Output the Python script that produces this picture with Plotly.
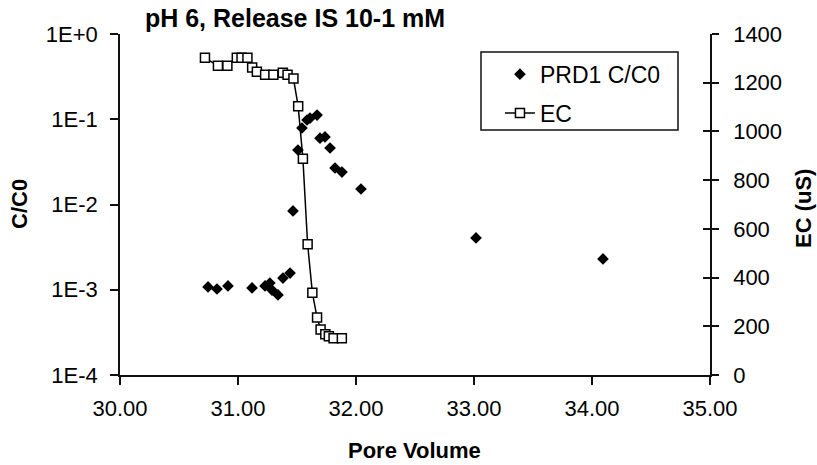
import plotly.graph_objects as go

# PRD1 C/C0 (left log axis)
prd1_pv = [30.746, 30.822, 30.915, 31.119, 31.229, 31.270, 31.288, 31.339, 31.381, 31.441,
           31.466, 31.508, 31.542, 31.585, 31.610, 31.670, 31.695, 31.737, 31.780, 31.822,
           31.881, 32.042, 33.017, 34.093]
prd1_cc0 = [1.08e-3, 1.02e-3, 1.11e-3, 1.05e-3, 1.11e-3, 1.20e-3, 0.99e-3, 0.87e-3, 1.37e-3, 1.57e-3,
            8.4e-3, 0.0436, 0.079, 0.098, 0.103, 0.112, 0.060, 0.062, 0.046, 0.0268,
            0.024, 0.0152, 4.05e-3, 2.3e-3]

# EC (right axis)
ec_pv = [30.72, 30.83, 30.91, 30.99, 31.03, 31.08, 31.12, 31.16, 31.23, 31.30, 31.38, 31.42,
         31.47, 31.51, 31.55, 31.59, 31.63, 31.67, 31.70, 31.74, 31.77, 31.81, 31.88]
ec_us = [1302, 1270, 1270, 1302, 1302, 1302, 1262, 1245, 1233, 1233, 1241, 1233,
         1217, 1103, 888, 537, 338, 236, 187, 167, 159, 151, 151]

x_ticks = [30, 31, 32, 33, 34, 35]
y_ticks = [1, 0.1, 0.01, 0.001, 0.0001]
y_ticktext = ["1E+0", "1E-1", "1E-2", "1E-3", "1E-4"]
y2_ticks = [0, 200, 400, 600, 800, 1000, 1200, 1400]

FONT = "Liberation Sans, Arial, sans-serif"
INK = "#111111"

fig = go.Figure()
fig.add_trace(go.Scatter(
    x=prd1_pv, y=prd1_cc0, mode="markers", name="PRD1 C/C0",
    marker=dict(symbol="diamond", size=9, color="black"),
    yaxis="y", legendgroup="a"))
fig.add_trace(go.Scatter(
    x=ec_pv, y=ec_us, mode="lines+markers", name="EC",
    line=dict(color="black", width=1.5),
    marker=dict(symbol="square", size=9, color="white", line=dict(color="black", width=1.5)),
    yaxis="y2", legendgroup="b"))
# helper trace so the crossing-tick axis is drawn
fig.add_trace(go.Scatter(x=[None], y=[None], yaxis="y3", showlegend=False, hoverinfo="skip"))

axis_common = dict(showgrid=False, zeroline=False, showline=True, linecolor=INK, linewidth=1.5,
                   tickcolor=INK, tickwidth=1.5, tickfont=dict(family=FONT, size=22, color="black"))

fig.update_layout(
    width=817, height=465,
    margin=dict(l=120, r=107, t=34, b=90),
    paper_bgcolor="white", plot_bgcolor="white",
    font=dict(family=FONT, color="black"),
    showlegend=True,
    legend=dict(x=0.644, y=0.945, xanchor="left", yanchor="top",
                bgcolor="rgba(0,0,0,0)", borderwidth=0,
                font=dict(family=FONT, size=23, color="black"),
                traceorder="grouped", tracegroupgap=6),
    xaxis=dict(range=[30, 35], tickvals=x_ticks, tickformat=".2f", ticks="outside", ticklen=8,
               ticklabelstandoff=5, **axis_common),
    yaxis=dict(type="log", range=[-4, 0], tickvals=y_ticks, ticktext=y_ticktext,
               ticks="outside", ticklen=8, ticklabelstandoff=8, **axis_common),
    yaxis2=dict(overlaying="y", side="right", range=[0, 1400], tickvals=y2_ticks,
                ticks="outside", ticklen=7, ticklabelstandoff=10, **axis_common),
    yaxis3=dict(overlaying="y", side="right", range=[0, 1400], tickvals=y2_ticks,
                ticks="inside", ticklen=7, showticklabels=False, showline=False,
                showgrid=False, zeroline=False, tickcolor=INK, tickwidth=1.5),
    title=dict(text="<b>pH 6, Release IS 10-1 mM</b>", x=295/817, xanchor="center",
               y=1 - 18/465, yanchor="middle", font=dict(family=FONT, size=25, color="black")),
    shapes=[dict(type="rect", xref="paper", yref="paper",
                 x0=(481-120)/590, x1=(678-120)/590, y0=(375-130)/341, y1=(375-52)/341,
                 line=dict(color=INK, width=1.5), fillcolor="rgba(0,0,0,0)", layer="below")],
    annotations=[
        dict(text="<b>Pore Volume</b>", xref="paper", yref="paper", x=(414-120)/590, y=(375-450)/341,
             showarrow=False, xanchor="center", yanchor="middle", font=dict(family=FONT, size=22, color="black")),
        dict(text="<b>C/C0</b>", xref="paper", yref="paper", x=(19-120)/590, y=(375-204)/341,
             showarrow=False, textangle=-90, xanchor="center", yanchor="middle",
             font=dict(family=FONT, size=22, color="black")),
        dict(text="<b>EC (uS)</b>", xref="paper", yref="paper", x=(803-120)/590, y=(375-209)/341,
             showarrow=False, textangle=-90, xanchor="center", yanchor="middle",
             font=dict(family=FONT, size=22, color="black")),
    ],
)

fig.write_html("out.html")
